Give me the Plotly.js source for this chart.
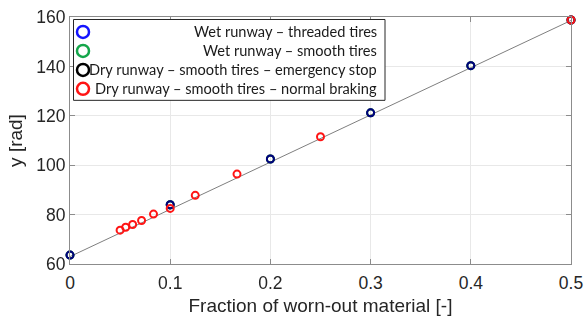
<!DOCTYPE html>
<html>
<head>
<meta charset="utf-8">
<script src="https://cdn.plot.ly/plotly-3.0.1.min.js"></script>
<style>
  html, body { margin: 0; padding: 0; background: #fff; }
  #chart { width: 588px; height: 320px; }
</style>
</head>
<body>
<div id="chart"></div>
<script>
// Fraction of worn-out material vs. angle y
const seriesNames = [
  'Wet runway \u2013 threaded tires',
  'Wet runway \u2013 smooth tires',
  'Dry runway \u2013 smooth tires \u2013 emergency stop',
  'Dry runway \u2013 smooth tires \u2013 normal braking'
];
const seriesColors = ['#1414ff', '#14a64a', '#000000', '#ff1414'];

// Wet / dry runway cases evaluated at regular wear fractions
const stepX = [0, 0.1, 0.2, 0.3, 0.4, 0.5];
const wetThreadedY = [63.6, 84.0, 102.5, 121.2, 140.3, 158.8];
const wetSmoothY = [63.6, 84.0, 102.5, 121.2, 140.3, 158.8];
const dryEmergencyY = [63.6, 84.0, 102.5, 121.2, 140.3, 158.8];

// Normal braking case evaluated at 1/n wear fractions
const normalX = [1/20, 1/18, 1/16, 1/14, 1/12, 1/10, 1/8, 1/6, 1/4, 1/2];
const normalY = [73.7, 74.9, 76.0, 77.6, 80.2, 82.5, 87.8, 96.4, 111.5, 158.8];

// Linear trend
const trendX = [0, 0.5];
const trendY = [63.0, 158.6];

const xTicks = [0, 0.1, 0.2, 0.3, 0.4, 0.5];
const yTicks = [60, 80, 100, 120, 140, 160];

function markerTrace(x, y, color, opacity) {
  return {
    x: x, y: y, type: 'scatter', mode: 'markers', showlegend: false,
    opacity: opacity, cliponaxis: false,
    marker: { symbol: 'circle-open', size: 7, color: color, line: { width: 2, color: color } },
    hoverinfo: 'x+y'
  };
}

const traces = [
  { x: trendX, y: trendY, type: 'scatter', mode: 'lines', showlegend: false,
    line: { color: '#7f7f7f', width: 1 }, hoverinfo: 'skip' },
  markerTrace(stepX, wetSmoothY, seriesColors[1], 1),
  markerTrace(stepX, dryEmergencyY, seriesColors[2], 1),
  markerTrace(stepX, wetThreadedY, '#0000ff', 0.5),
  markerTrace(normalX, normalY, seriesColors[3], 1)
];

// Plot area in pixels
const L = 70, R = 571, T = 16.5, B = 264;
const px = v => (v - L) / (R - L);
const py = v => (B - v) / (B - T);

const legendRows = [31.5, 50.5, 69.5, 88.5];
const annotations = seriesNames.map((name, i) => ({
  xref: 'paper', yref: 'paper', x: px(379), y: py(legendRows[i]),
  xanchor: 'right', yanchor: 'middle', showarrow: false, text: name,
  font: { family: 'Lato, sans-serif', size: 14.6, color: '#1a1a1a' }
}));

const shapes = [
  { type: 'rect', xref: 'paper', yref: 'paper', x0: px(73.5), x1: px(385), y0: py(100), y1: py(19),
    line: { color: '#262626', width: 1 }, fillcolor: '#ffffff', layer: 'above' }
].concat(seriesColors.map((c, i) => ({
  type: 'circle', xref: 'paper', yref: 'paper', layer: 'above',
  xsizemode: 'pixel', ysizemode: 'pixel',
  xanchor: px(83), yanchor: py(legendRows[i]),
  x0: -6, x1: 6, y0: -6, y1: 6,
  line: { color: c, width: 2.5 }
})));

const axisFont = 'Liberation Sans, Arial, sans-serif';
const axisCommon = {
  showline: true, mirror: 'ticks', linecolor: '#8c8c8c', linewidth: 1,
  ticks: 'inside', ticklen: 5, tickcolor: '#8c8c8c',
  showgrid: true, gridcolor: '#e8e8e8', gridwidth: 1, zeroline: false,
  tickfont: { family: axisFont, size: 17.5, color: '#262626' }
};

const layout = {
  width: 588, height: 320,
  margin: { l: L, r: 588 - R, t: T, b: 320 - B },
  paper_bgcolor: '#ffffff', plot_bgcolor: '#ffffff',
  showlegend: false,
  xaxis: Object.assign({}, axisCommon, {
    range: [0, 0.5], tickvals: xTicks, ticktext: xTicks.map(String),
    ticklabelstandoff: 3,
    title: { text: 'Fraction of worn-out material [-]', standoff: 6,
      font: { family: axisFont, size: 19, color: '#262626' } }
  }),
  yaxis: Object.assign({}, axisCommon, {
    range: [60, 160], tickvals: yTicks, ticktext: yTicks.map(String),
    title: { text: 'y [rad]', standoff: 8,
      font: { family: axisFont, size: 19, color: '#262626' } }
  }),
  annotations: annotations,
  shapes: shapes
};

Plotly.newPlot('chart', traces, layout, { displayModeBar: false, staticPlot: true });
</script>
</body>
</html>
